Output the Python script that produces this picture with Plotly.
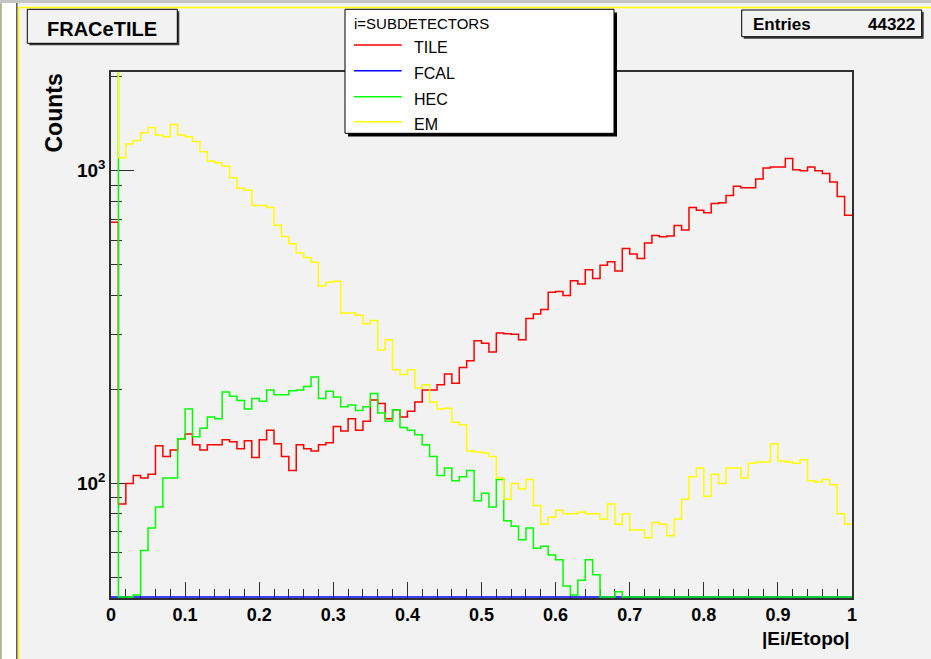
import math
import plotly.graph_objects as go

# ---------------- data (counts per bin, 100 bins on [0,1]) ----------------
n_bins = 100
x_min, x_max = 0.0, 1.0

tile = [685, 86, 100, 106, 104, 107, 132, 122, 128, 139,
        144, 133, 128, 133, 133, 138, 136, 129, 137, 121,
        138, 148, 134, 122, 110, 133, 129, 127, 133, 135,
        152, 147, 161, 148, 158, 185, 180, 161, 172, 163,
        170, 182, 199, 199, 207, 224, 209, 235, 247, 286,
        281, 263, 303, 301, 300, 288, 337, 348, 360, 409,
        411, 399, 445, 434, 482, 452, 499, 512, 478, 564,
        542, 524, 588, 621, 615, 618, 668, 646, 763, 748,
        734, 786, 790, 834, 893, 882, 882, 941, 1020, 1028,
        1028, 1095, 1007, 1000, 1028, 1000, 980, 920, 828, 721]

fcal = [0] * 100

hec = [2200, 0, 0, 44, 61, 72, 84, 104, 104, 139,
       173, 141, 150, 163, 161, 196, 190, 184, 173, 187,
       183, 199, 192, 192, 198, 199, 204, 219, 187, 197,
       189, 176, 178, 171, 176, 194, 168, 158, 172, 151,
       148, 143, 133, 122, 106, 112, 102, 105, 110, 88,
       93, 84, 103, 76, 73, 66, 72, 62, 63, 59,
       57, 47, 44, 49, 57, 51, 0, 0, 45, 0,
       0, 0, 0, 0, 0, 0, 0, 0, 0, 0,
       0, 0, 0, 0, 0, 0, 0, 0, 0, 0,
       0, 0, 0, 0, 0, 0, 0, 0, 0, 0]

em = [2300, 1101, 1218, 1250, 1323, 1376, 1301, 1285, 1406, 1301,
      1285, 1241, 1151, 1074, 1061, 1035, 950, 880, 867, 774,
      774, 763, 670, 616, 584, 546, 528, 510, 428, 440,
      443, 351, 351, 345, 324, 332, 267, 288, 231, 223,
      231, 202, 207, 182, 173, 174, 157, 154, 127, 126,
      125, 122, 104, 89, 100, 96, 103, 85, 74, 78,
      82, 80, 80, 81, 80, 80, 77, 86, 74, 80,
      71, 71, 67, 75, 74, 68, 77, 89, 105, 112,
      91, 107, 100, 112, 112, 104, 116, 117, 117, 134,
      118, 117, 116, 119, 102, 101, 103, 99, 80, 74]

series_names = ["TILE", "FCAL", "HEC", "EM"]
series_values = [tile, fcal, hec, em]
series_colors = ["#ff0000", "#0000ff", "#00ff00", "#ffff00"]

x_tick_vals = [0.0, 0.1, 0.2, 0.3, 0.4, 0.5, 0.6, 0.7, 0.8, 0.9, 1.0]
x_tick_text = ["0", "0.1", "0.2", "0.3", "0.4", "0.5", "0.6", "0.7", "0.8", "0.9", "1"]
y_tick_vals = [100, 1000]
y_tick_text = ["10<sup>2</sup>", "10<sup>3</sup>"]
y_minor_vals = [50, 60, 70, 80, 90, 200, 300, 400, 500, 600, 700, 800, 900, 2000]

y_min, y_max = 43.0, 2070.0
entries = 44322

# ---------------- figure ----------------
FONT = "Liberation Sans, Arial, sans-serif"
W, H = 931, 659
ML, MR, MT, MB = 111, 79, 72, 61
PW, PH = W - ML - MR, H - MT - MB


def px(x):
    return (x - ML) / PW


def py(y):
    return (H - MB - y) / PH


edges = [x_min + (x_max - x_min) * i / n_bins for i in range(n_bins + 1)]
# empty bins are drawn on the bottom edge of the frame (as ROOT does)
floor_val = y_min * 1.008

fig = go.Figure()
for name, vals, col in zip(series_names, series_values, series_colors):
    yv = [max(v, floor_val) for v in vals]
    yv = yv + [yv[-1]]
    fig.add_trace(go.Scatter(x=edges, y=yv, mode="lines", name=name,
                             line=dict(color=col, width=1.5, shape="hv"),
                             showlegend=False, hoverinfo="skip"))

AX = "#303030"
fig.update_layout(
    width=W, height=H,
    margin=dict(l=ML, r=MR, t=MT, b=MB),
    paper_bgcolor="#f2f2f2", plot_bgcolor="#f2f2f2",
    font=dict(family=FONT, color="#000000"),
    showlegend=False,
    xaxis=dict(range=[x_min, x_max], tickmode="array", tickvals=x_tick_vals,
               ticktext=x_tick_text, ticks="inside", ticklen=16, tickwidth=1,
               tickcolor=AX, showline=True, linecolor=AX, linewidth=1.5,
               mirror=True, showgrid=False, zeroline=False,
               layer="below traces",
               tickfont=dict(family=FONT, size=18, weight="bold"),
               minor=dict(dtick=0.02, tick0=0, ticks="inside", ticklen=9,
                          tickcolor=AX, tickwidth=1, showgrid=False)),
    yaxis=dict(type="log", range=[math.log10(y_min), math.log10(y_max)],
               tickmode="array", tickvals=y_tick_vals, ticktext=y_tick_text,
               ticks="inside", ticklen=23, tickwidth=1, tickcolor=AX,
               showline=True, linecolor=AX, linewidth=1.5, mirror=True,
               showgrid=False, zeroline=False,
               layer="below traces",
               tickfont=dict(family=FONT, size=19, weight="bold"),
               minor=dict(tickmode="array", tickvals=y_minor_vals,
                          ticks="inside", ticklen=11, tickcolor=AX,
                          tickwidth=1, showgrid=False)),
)

shapes = []
ann = []


def rect(x0, y0, x1, y1, fill, line_color=None, lw=0):
    shapes.append(dict(type="rect", xref="paper", yref="paper",
                       x0=px(x0), x1=px(x1), y0=py(y1), y1=py(y0),
                       fillcolor=fill,
                       line=dict(color=line_color or fill, width=lw)))


def line(x0, y0, x1, y1, color, lw=1):
    shapes.append(dict(type="line", xref="paper", yref="paper",
                       x0=px(x0), x1=px(x1), y0=py(y0), y1=py(y1),
                       line=dict(color=color, width=lw)))


def text(x, y, s, size, xanchor="left", bold=False, angle=0):
    ann.append(dict(xref="paper", yref="paper", x=px(x), y=py(y), text=s,
                    showarrow=False, xanchor=xanchor, yanchor="middle",
                    textangle=angle,
                    font=dict(family=FONT, size=size, color="#000000",
                              weight="bold" if bold else "normal")))


# canvas decorations (ROOT canvas look)
rect(0, 0, 16.5, H, "#ffffff")
rect(0, 0, 1.8, H, "#b4b48c")
rect(0, 0, W, 3, "#c4c4c4")
line(16.8, 3, 16.8, H, "#555555", 1.5)
line(18.6, 7.5, 18.6, H, "#ffff00", 1.5)
line(18, 7.5, W, 7.5, "#ffff00", 1.5)

# title box
rect(29.3, 11.3, 179.3, 45.3, "#3a3a3a")
rect(27.3, 9.3, 177.3, 43.3, "#f2f2f2", "#000000", 1)
text(102.3, 28.5, "FRACeTILE", 20, "center", bold=True)

# stats box
rect(743.7, 12, 923.7, 38.7, "#3a3a3a")
rect(741.7, 10, 921.7, 36.7, "#f2f2f2", "#000000", 1)
text(750.7, 24, "Entries", 17, "left", bold=True)
text(917.3, 24, f"{entries}", 17, "right", bold=True)

# legend box
rect(348, 12.5, 617, 136.5, "#000000")
rect(345, 9.3, 614, 133.3, "#ffffff", "#000000", 1)
text(351.7, 23.5, "i=SUBDETECTORS", 15, "left")
leg_y = [45, 70.7, 96.7, 121.7]
for name, col, yy in zip(series_names, series_colors, leg_y):
    line(354, yy, 401.7, yy, col, 1.5)
    text(411.7, yy + 2.5, name, 16, "left")

# axis titles
text(53, 113.5, "Counts", 23, "center", bold=True, angle=-90)
text(852, 638, "|Ei/Etopo|", 19, "right", bold=True)

fig.update_layout(shapes=shapes, annotations=ann)
fig.write_html("out.html")
